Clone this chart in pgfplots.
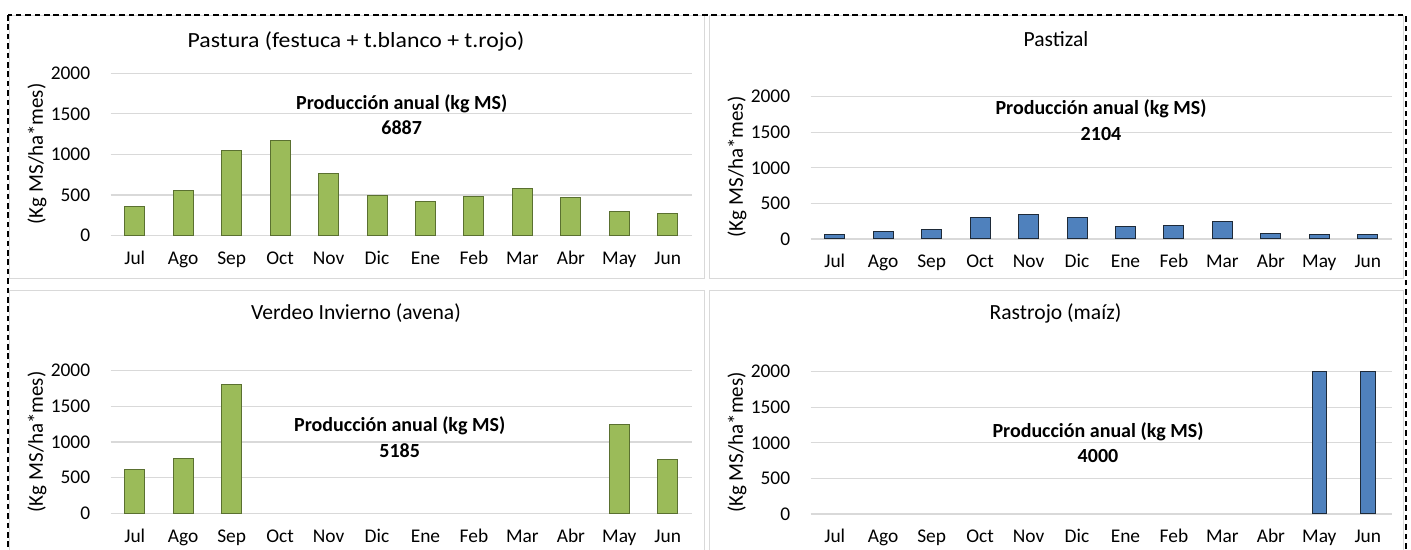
\documentclass[border=0pt]{standalone}
\usepackage{pgfplots}
\pgfplotsset{compat=1.18}
\usepackage{fontspec}
\setmainfont{Carlito}
\definecolor{gfill}{HTML}{9BBB59}
\definecolor{gedge}{HTML}{5A7030}
\definecolor{bfill}{HTML}{4F81BD}
\definecolor{bedge}{HTML}{1E2A38}
\definecolor{gridc}{HTML}{D9D9D9}
\definecolor{panelc}{HTML}{D9D9D9}
\pgfplotsset{
  panel/.style={
    scale only axis, width=290.75pt,
    xmin=-0.5, xmax=11.5, ymin=0, ymax=2000,
    ytick={0,500,1000,1500,2000},
    xtick={0,...,11},
    xticklabels={Jul,Ago,Sep,Oct,Nov,Dic,Ene,Feb,Mar,Abr,May,Jun},
    ymajorgrids, grid style={draw=gridc, line width=0.6pt},
    axis line style={draw=none},
    major tick length=0pt, tick style={draw=none},
    ybar, bar width=10pt, bar shift=0pt,
    ticklabel style={font=\fontsize{9.7}{11}\selectfont},
    yticklabel style={anchor=east, inner sep=0pt, xshift=-10pt, /pgf/number format/set thousands separator={}},
    xticklabel style={anchor=base, inner sep=0pt, yshift=-14.5pt},
    /pgf/number format/assume math mode=true,
    clip=false,
  },
  gbar/.style={fill=gfill, draw=gedge, line width=0.5pt},
  bbar/.style={fill=bfill, draw=bedge, line width=0.5pt},
}
\begin{document}
\begin{tikzpicture}[x=0.5pt,y=0.5pt]
\useasboundingbox (0,0) rectangle (1411,550);
\clip (0,0) rectangle (1411,550);
% panel frames
\draw[panelc, line width=0.5pt] (9.5,534) rectangle (704,271);
\draw[panelc, line width=0.5pt] (709,534) rectangle (1403,271);
\draw[panelc, line width=0.5pt] (9.5,259) rectangle (704,-10);
\draw[panelc, line width=0.5pt] (709,259) rectangle (1403,-10);
% outer dashed border
\draw[black, line width=1pt, dash pattern=on 2.8pt off 1.9pt] (8,535) rectangle (1405.5,-20);

% Panel 1
\begin{axis}[panel, height=81.1pt, at={(55.25pt,157.25pt)}, anchor=south west]
\addplot[gbar] coordinates {(0,360) (1,560) (2,1050) (3,1170) (4,760) (5,490) (6,420) (7,480) (8,580) (9,470) (10,300) (11,265)};
\end{axis}
% Panel 2
\begin{axis}[panel, height=71.15pt, at={(405.25pt,155.5pt)}, anchor=south west]
\addplot[bbar] coordinates {(0,65) (1,105) (2,135) (3,305) (4,345) (5,305) (6,180) (7,190) (8,245) (9,80) (10,60) (11,60)};
\end{axis}
% Panel 3
\begin{axis}[panel, height=71.3pt, at={(55.25pt,18.35pt)}, anchor=south west]
\addplot[gbar] coordinates {(0,620) (1,775) (2,1800) (10,1240) (11,750)};
\end{axis}
% Panel 4
\begin{axis}[panel, height=71.15pt, at={(405.25pt,18pt)}, anchor=south west, bar width=7.25pt]
\addplot[bbar] coordinates {(10,2000) (11,2000)};
\end{axis}

% titles
\node[font=\fontsize{10.8}{12}\selectfont] at (356,508.3) {\scalebox{1.1}[1]{Pastura (festuca + t.blanco + t.rojo)}};
\node[font=\fontsize{10.8}{12}\selectfont] at (1056,511) {Pastizal};
\node[font=\fontsize{10.8}{12}\selectfont] at (356,237) {Verdeo Invierno (avena)};
\node[font=\fontsize{10.8}{12}\selectfont] at (1055.5,237) {Rastrojo (maíz)};
% annotations
\node[font=\bfseries\fontsize{10}{11}\selectfont] at (401.7,446.7) {Producción anual (kg MS)};
\node[font=\bfseries\fontsize{10}{11}\selectfont] at (401.7,422.3) {6887};
\node[font=\bfseries\fontsize{10}{11}\selectfont] at (1101,441) {Producción anual (kg MS)};
\node[font=\bfseries\fontsize{10}{11}\selectfont] at (1101,416) {2104};
\node[font=\bfseries\fontsize{10}{11}\selectfont] at (399.7,124) {Producción anual (kg MS)};
\node[font=\bfseries\fontsize{10}{11}\selectfont] at (399.7,99) {5185};
\node[font=\bfseries\fontsize{10}{11}\selectfont] at (1098,118.7) {Producción anual (kg MS)};
\node[font=\bfseries\fontsize{10}{11}\selectfont] at (1098,94) {4000};
% y labels
\node[rotate=90, font=\fontsize{10.5}{12}\selectfont] at (37,396) {(Kg MS/ha*mes)};
\node[rotate=90, font=\fontsize{10.5}{12}\selectfont] at (737,383) {(Kg MS/ha*mes)};
\node[rotate=90, font=\fontsize{10.5}{12}\selectfont] at (37,108) {(Kg MS/ha*mes)};
\node[rotate=90, font=\fontsize{10.5}{12}\selectfont] at (737,107.5) {(Kg MS/ha*mes)};
\end{tikzpicture}
\end{document}
